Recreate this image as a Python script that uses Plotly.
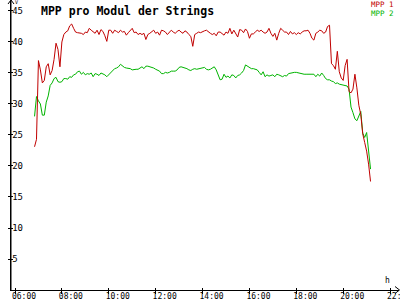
import pandas as pd
import plotly.graph_objects as go

title = "MPP pro Modul der Strings"
series_names = ["MPP 1", "MPP 2"]
start_time = "2024-06-01 06:50"
step = "5min"

mpp1 = [
    23.1, 24.3, 37.0, 35.5, 33.4, 33.8, 36.0, 36.5, 34.7, 35.4,
    37.2, 39.8, 38.8, 36.0, 40.0, 41.2, 41.6, 41.8, 42.6, 42.9,
    42.2, 41.6, 41.5, 41.5, 41.4, 41.2, 41.6, 41.5, 42.2, 41.9,
    41.6, 41.4, 41.9, 41.2, 42.0, 41.7, 41.0, 40.1, 41.9, 41.9,
    41.4, 41.9, 41.7, 41.5, 41.9, 41.6, 41.7, 41.1, 41.5, 41.8,
    42.2, 41.5, 41.6, 41.2, 41.4, 41.2, 41.4, 40.4, 41.2, 41.4,
    41.7, 41.9, 41.4, 41.6, 41.1, 41.9, 41.8, 41.6, 41.2, 41.5,
    41.9, 41.6, 41.4, 41.7, 41.9, 41.6, 41.4, 41.8, 41.6, 41.2,
    40.9, 39.3, 41.2, 41.4, 41.6, 41.5, 41.7, 41.8, 41.9, 41.6,
    41.4, 41.2, 41.4, 41.0, 41.6, 41.6, 41.3, 41.1, 41.6, 41.4,
    42.2, 41.3, 41.9, 41.4, 40.8, 42.0, 41.9, 41.5, 42.1, 41.7,
    40.6, 41.3, 41.3, 41.6, 41.9, 41.7, 41.9, 41.6, 41.4, 41.6,
    42.2, 41.4, 40.9, 41.4, 40.3, 41.4, 42.2, 41.9, 41.6, 41.6,
    41.2, 41.7, 41.3, 41.5, 41.2, 41.5, 41.3, 41.6, 41.8, 41.8,
    41.9, 41.4, 40.6, 40.3, 41.4, 41.6, 41.9, 41.8, 41.4, 41.6,
    42.5, 42.7, 36.5, 36.2, 35.6, 38.5, 35.2, 34.2, 33.8, 36.2,
    37.2, 32.0, 31.8, 32.4, 34.8, 32.6, 29.8, 28.3, 25.2, 23.8,
    22.4, 20.3, 17.5,
]

mpp2 = [
    28.0, 31.2, 30.5, 30.0, 28.2, 28.2, 30.3, 31.3, 33.0, 33.4,
    34.1, 34.3, 33.6, 33.5, 33.6, 34.1, 34.1, 34.0, 34.4, 34.3,
    34.7, 34.8, 35.2, 35.3, 34.8, 35.1, 34.7, 34.9, 34.8, 35.0,
    34.4, 34.9, 34.8, 34.6, 35.0, 34.9, 34.7, 34.4, 34.7, 35.0,
    35.3, 35.7, 35.8, 36.0, 36.4, 36.1, 35.9, 35.8, 35.8, 35.7,
    35.5, 35.6, 35.6, 35.6, 35.8, 36.0, 35.7, 36.1, 36.1, 36.0,
    36.0, 35.8, 35.6, 35.5, 35.3, 34.9, 34.9, 35.1, 35.0, 35.1,
    35.3, 35.3, 35.3, 35.5, 35.9, 36.0, 35.9, 35.9, 35.7, 35.5,
    35.4, 35.6, 35.7, 35.6, 35.7, 35.7, 35.8, 35.9, 35.6, 35.5,
    35.6, 35.8, 36.0, 35.5, 34.7, 33.9, 34.0, 34.8, 34.3, 34.5,
    34.2, 34.7, 34.6, 34.2, 34.6, 34.7, 35.0, 35.4, 36.3, 36.1,
    35.9, 35.7, 35.7, 35.6, 35.5, 35.1, 34.7, 35.2, 34.4, 34.7,
    34.5, 34.6, 34.7, 34.4, 34.8, 34.7, 34.5, 34.4, 34.6, 34.5,
    34.9, 35.0, 35.0, 35.1, 35.1, 35.0, 34.9, 34.9, 34.8, 34.8,
    34.8, 34.8, 34.7, 34.8, 34.4, 34.8, 34.5, 35.0, 34.6, 34.1,
    33.9, 33.9, 33.7, 33.6, 33.3, 33.4, 33.2, 33.1, 33.0, 32.9,
    32.9, 32.4, 29.5, 28.6, 27.6, 27.3, 28.0, 28.8, 25.3, 24.6,
    25.4, 22.5, 19.5,
]

y_ticks = [5, 10, 15, 20, 25, 30, 35, 40, 45]
x_range = ["2024-06-01 05:49:45", "2024-06-01 22:22:50"]
y_range = [0, 46.61]

times = pd.date_range(start_time, periods=len(mpp1), freq=step)

RED = "#c00000"
GREEN = "#00b400"
MONO = "DejaVu Sans Mono"

fig = go.Figure()
fig.add_trace(go.Scatter(x=times, y=mpp2, mode="lines", name=series_names[1],
                         line=dict(color=GREEN, width=1)))
fig.add_trace(go.Scatter(x=times, y=mpp1, mode="lines", name=series_names[0],
                         line=dict(color=RED, width=1)))

# invisible traces to activate overlay axes (for crossing tick marks)
fig.add_trace(go.Scatter(x=[times[0]], y=[None], xaxis="x2", yaxis="y2",
                         showlegend=False, hoverinfo="skip"))
fig.add_trace(go.Scatter(x=[times[0]], y=[None], xaxis="x3", yaxis="y2",
                         showlegend=False, hoverinfo="skip"))

W, H = 400, 300
L, R, T, B = 11, 1, 1, 10
pw, ph = W - L - R, H - T - B


def px(x):
    return (x - L) / pw


def py(y):
    return (H - B - y) / ph


common_x = dict(type="date", range=x_range, tick0="2024-06-01 06:00",
                dtick=2 * 3600 * 1000, showgrid=False, zeroline=False,
                automargin=False)
common_y = dict(range=y_range, tickvals=y_ticks, showgrid=False, zeroline=False,
                automargin=False)

fig.update_layout(
    width=W, height=H,
    margin=dict(l=L, r=R, t=T, b=B, pad=0, autoexpand=False),
    paper_bgcolor="white", plot_bgcolor="white",
    showlegend=False,
    xaxis=dict(**common_x, showline=True, linecolor="black", linewidth=1,
               ticks="", tickformat="%H:%M", ticklabelshift=9,
               ticklabelstandoff=-2, ticklabeloverflow="allow",
               tickfont=dict(family=MONO, size=8, color="black")),
    xaxis2=dict(**common_x, overlaying="x", anchor="y", side="bottom",
                showline=False, ticks="inside", ticklen=2, tickcolor="black",
                tickwidth=1, showticklabels=False),
    xaxis3=dict(**common_x, overlaying="x", anchor="y", side="bottom",
                showline=False, ticks="outside", ticklen=3, tickcolor="black",
                tickwidth=1, showticklabels=False),
    yaxis=dict(**common_y, showline=True, linecolor="black", linewidth=1,
               ticks="outside", ticklen=2, tickcolor="black", tickwidth=1,
               ticklabelposition="inside", ticklabeloverflow="allow",
               tickfont=dict(family=MONO, size=9, color="black")),
    yaxis2=dict(**common_y, overlaying="y", anchor="x", showline=False,
                ticks="inside", ticklen=2, tickcolor="black", tickwidth=1,
                showticklabels=False),
    font=dict(family=MONO, color="black"),
)

shapes = []
# y-axis extension and arrow at top
shapes.append(dict(type="line", xref="paper", yref="paper",
                   x0=px(11), y0=py(290), x1=px(11), y1=py(0),
                   line=dict(color="black", width=1)))
shapes.append(dict(type="path", xref="paper", yref="paper",
                   path=f"M {px(8)} {py(4)} L {px(11)} {py(0)} L {px(14)} {py(4)}",
                   line=dict(color="black", width=1)))
# x-axis arrow at right
shapes.append(dict(type="path", xref="paper", yref="paper",
                   path=f"M {px(395)} {py(286.5)} L {px(399.5)} {py(290)} L {px(395)} {py(293.5)}",
                   line=dict(color="black", width=1)))
fig.update_layout(shapes=shapes)

annotations = [
    dict(text=f"<b>{title}</b>", xref="paper", yref="paper", x=px(39), y=py(2),
         xanchor="left", yanchor="top", showarrow=False,
         font=dict(family=MONO, size=11.5, color="black")),
    dict(text=series_names[0], xref="paper", yref="paper", x=px(396), y=py(-2),
         xanchor="right", yanchor="top", showarrow=False,
         font=dict(family=MONO, size=7.5, color=RED)),
    dict(text=series_names[1], xref="paper", yref="paper", x=px(396), y=py(7),
         xanchor="right", yanchor="top", showarrow=False,
         font=dict(family=MONO, size=7.5, color=GREEN)),
    dict(text="V", xref="paper", yref="paper", x=px(12.5), y=py(-2.5),
         xanchor="left", yanchor="top", showarrow=False,
         font=dict(family=MONO, size=5, color="black")),
    dict(text="h", xref="paper", yref="paper", x=px(383), y=py(274),
         xanchor="left", yanchor="top", showarrow=False,
         font=dict(family=MONO, size=8, color="black")),
]
fig.update_layout(annotations=annotations)

fig.write_html("out.html")
